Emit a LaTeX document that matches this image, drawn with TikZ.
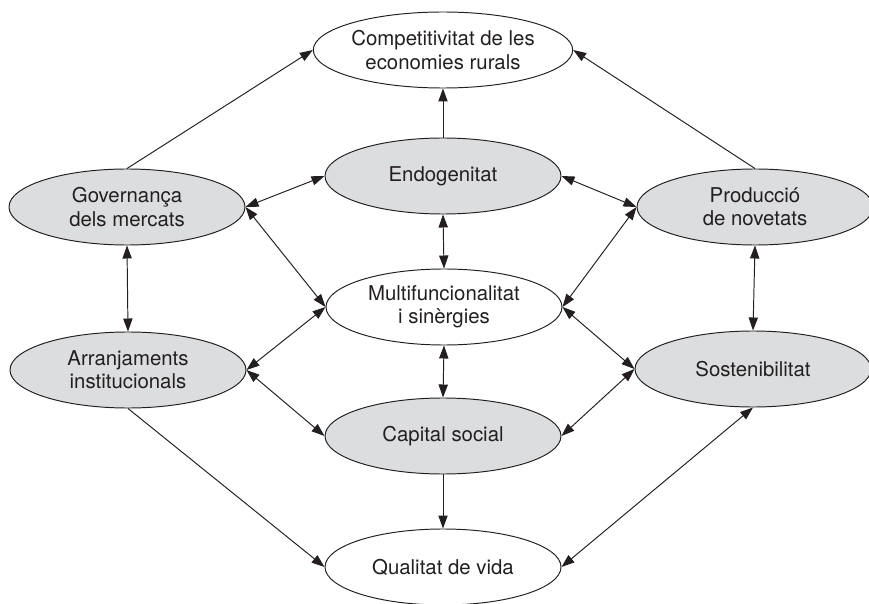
\documentclass[tikz,border=0pt]{standalone}
\usepackage{fontspec}
\setmainfont{TeX Gyre Heros}
\usepackage{tikz}
\usetikzlibrary{positioning,shapes,calc}
\usetikzlibrary{arrows.meta}
\definecolor{nodegray}{RGB}{220,221,223}
\definecolor{inkline}{RGB}{35,31,32}

\begin{document}
\begin{tikzpicture}[->,>={Triangle[length=2.6mm,width=1.85mm]},line width=0.55pt,draw=inkline,
        font=\fontsize{11.6pt}{13.3pt}\selectfont]
            \tikzstyle{every node}=[ellipse, draw=inkline, line width=0.55pt,
            minimum width=4.72cm, minimum height=1.52cm, inner sep=0pt,
            align=center, text=inkline]
            \tikzstyle{shaded}=[fill=nodegray]
            \useasboundingbox (0,0) rectangle (17.38,12.06);
            %                 Comp
            %   Gov          Endo          Prod
            %                Multi
            %   Arr           Cap          Sost
            %                Qual
            \node (comp) at (8.86,11.06) {Competitivitat de les\\economies rurals};
            \node[shaded] (endo) at (8.86,8.54) {Endogenitat};
            \node[shaded] (gov) at (2.54,7.92) {Governança\\dels mercats};
            \node[shaded] (prod) at (15.10,7.92) {Producció\\de novetats};
            \node (multi) at (8.88,5.92) {Multifuncionalitat\\i sinèrgies};
            \node[shaded] (arr) at (2.56,4.66) {Arranjaments\\institucionals};
            \node[shaded] (sost) at (15.06,4.68) {Sostenibilitat};
            \node[shaded] (cap) at (8.86,3.34) {Capital social};
            \node (qual) at (8.86,0.72) {Qualitat de vida};
            \path (gov.north) edge (comp.west)
                  (prod.north) edge (comp.east)
                  (endo.north) edge (comp.south);
            \path (gov.east) edge [<->] (endo.west)
                  (gov.east) edge [<->] (multi.west)
                  (endo.south) edge [<->] (multi.north)
                  (endo.east) edge [<->] (prod.west)
                  (multi.east) edge [<->] (prod.west);
            \path (gov.south) edge [<->] (arr.north)
                  (prod.south) edge [<->] (sost.north);
            \path (arr.east) edge [<->] (multi.west)
                  (arr.east) edge [<->] (cap.west)
                  (multi.south) edge [<->] (cap.north)
                  (multi.east) edge [<->] (sost.west)
                  (cap.east) edge [<->] (sost.west);
            \path (cap.south) edge (qual.north)
                  (arr.south) edge (qual.west)
                  (sost.south) edge [<->] (qual.east);
\end{tikzpicture}
\end{document}
